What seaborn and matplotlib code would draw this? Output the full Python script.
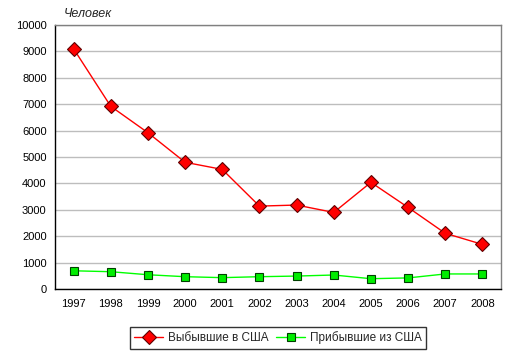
import matplotlib
matplotlib.use("Agg")
import matplotlib.pyplot as plt
import seaborn as sns
import pandas as pd
import numpy as np
from matplotlib.ticker import FixedLocator

years = ["1997", "1998", "1999", "2000", "2001", "2002", "2003", "2004", "2005", "2006", "2007", "2008"]
departed = [9100, 6920, 5920, 4800, 4530, 3140, 3180, 2900, 4040, 3090, 2110, 1690]
arrived = [690, 655, 540, 466, 430, 466, 490, 530, 390, 420, 570, 570]
series_names = ["Выбывшие в США", "Прибывшие из США"]
y_ticks = [0, 1000, 2000, 3000, 4000, 5000, 6000, 7000, 8000, 9000, 10000]

sns.set_theme(style="white")
plt.rcParams['font.family'] = ['Liberation Sans', 'DejaVu Sans']

df = pd.DataFrame({
    "year": years * 2,
    "value": departed + arrived,
    "series": [series_names[0]] * len(years) + [series_names[1]] * len(years),
})

fig = plt.figure(figsize=(5.16, 3.58), dpi=100)
ax = fig.add_axes([55/516, 1 - 289/358, 446/516, 264/358])

sns.lineplot(data=df, x="year", y="value", hue="series", style="series",
             palette={series_names[0]: "#FF0000", series_names[1]: "#00FF00"},
             markers={series_names[0]: "D", series_names[1]: "s"},
             dashes=False, linewidth=1, ax=ax, legend=False, sort=False)

lines = ax.get_lines()
lines[0].set_markersize(7.5)
lines[0].set_markerfacecolor("#FF0000")
lines[0].set_markeredgecolor("#600000")
lines[0].set_markeredgewidth(0.8)
lines[1].set_markersize(6)
lines[1].set_markerfacecolor("#00EE00")
lines[1].set_markeredgecolor("#004000")
lines[1].set_markeredgewidth(0.8)

ax.set_xlim(-0.5, len(years) - 0.5)
ax.set_ylim(0, 10000)
ax.set_yticks(y_ticks)
ax.set_yticklabels([str(v) for v in y_ticks], fontsize=8)
ax.set_xticks(range(len(years)))
ax.set_xticklabels(years, fontsize=8)
ax.xaxis.set_minor_locator(FixedLocator(np.arange(-0.5, len(years), 1.0)))
ax.tick_params(axis="x", which="major", length=0, pad=7, colors="black")
ax.tick_params(axis="x", which="minor", length=4, width=1, color="black", direction="out")
ax.tick_params(axis="y", length=0, pad=6, colors="black")
ax.set_xlabel("")
ax.set_ylabel("")

ax.grid(axis="y", color="#BDBDBD", linewidth=1)
ax.set_axisbelow(True)
for s in ["top", "right"]:
    ax.spines[s].set_color("#808080")
    ax.spines[s].set_linewidth(1)
for s in ["left", "bottom"]:
    ax.spines[s].set_color("black")
    ax.spines[s].set_linewidth(1)

fig.text(64/516, 1 - 14/358, "Человек", fontsize=9, style="italic", va="center", ha="left")

handles = [plt.Line2D([], [], color="#FF0000", marker="D", markersize=7, markerfacecolor="#FF0000",
                      markeredgecolor="#600000", markeredgewidth=0.8, linewidth=1),
           plt.Line2D([], [], color="#00FF00", marker="s", markersize=5.5, markerfacecolor="#00EE00",
                      markeredgecolor="#004000", markeredgewidth=0.8, linewidth=1)]
leg = fig.legend(handles, series_names, loc="center", bbox_to_anchor=(278/516, 1 - 338/358),
                 ncol=2, fontsize=8.5, frameon=True, fancybox=False, edgecolor="black",
                 handlelength=2.5, columnspacing=0.6, handletextpad=0.4, borderpad=0.35,
                 borderaxespad=0.0)
leg.get_frame().set_linewidth(1)

fig.savefig("out.png", dpi=100)
